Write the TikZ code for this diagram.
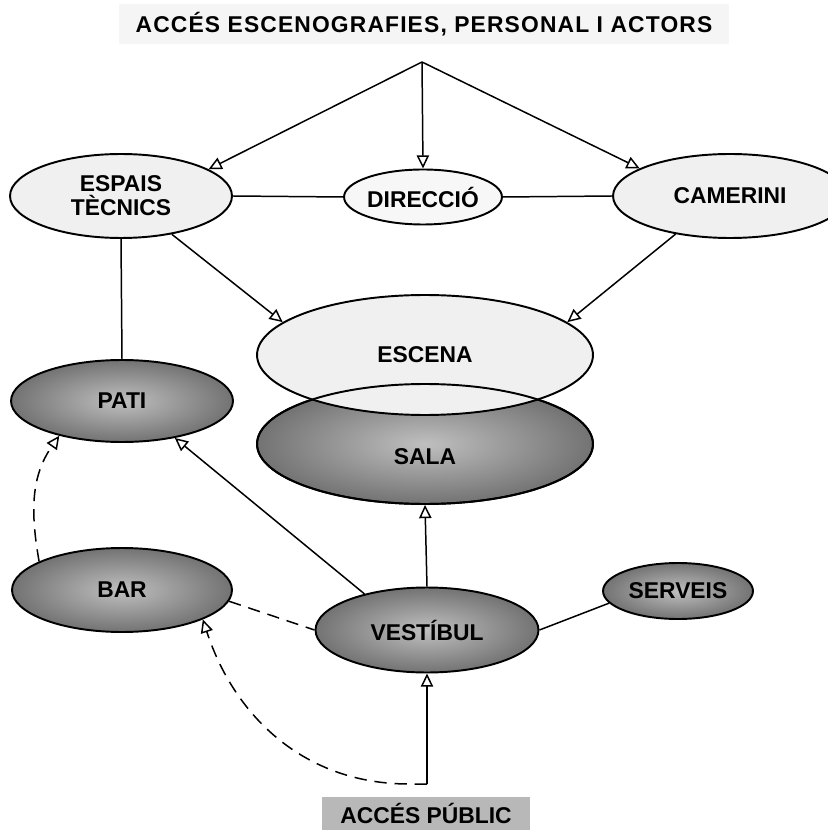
\documentclass[tikz,border=0pt]{standalone}
\usepackage{fontspec}
\setmainfont{Liberation Sans}
\newfontfamily\titlefont[LetterSpace=5]{Liberation Sans}
\usepackage{tikz}
\usetikzlibrary{shapes.geometric,arrows.meta}
\definecolor{roomlight}{gray}{0.94}
\definecolor{roomdark}{gray}{0.45}

\begin{document}
\begin{tikzpicture}[x=0.02cm,y=-0.02cm,
    room/.style={ellipse, draw, line width=1.1pt, inner sep=0pt, align=center,
      font=\fontsize{13}{13.5}\selectfont\bfseries},
    openroom/.style={room, fill=roomlight},
    closedroom/.style={room, shade, inner color=black!25, outer color=roomdark},
    link/.style={line width=0.85pt},
    flow/.style={link, -{Triangle[open,length=7.5pt,width=7pt]}},
    dashlink/.style={link, dash pattern=on 7pt off 4.5pt},
    dashflow/.style={dashlink, -{Triangle[open,length=7.5pt,width=7pt]}}]
  \useasboundingbox (0,0) rectangle (827,830);

  \node[fill=black!4, minimum width=12.2cm, minimum height=0.8cm,
        font=\titlefont\fontsize{13}{15}\selectfont\bfseries] (title) at (424,24)
    {ACCÉS ESCENOGRAFIES, PERSONAL I ACTORS};
  \coordinate (apex) at (422,62);

  \node[openroom, minimum width=4.44cm, minimum height=1.68cm] (espais) at (121,196) {ESPAIS\\TÈCNICS};
  \node[openroom, fill=black!3, minimum width=3cm, minimum height=1.1cm] (direccio) at (423,197) {DIRECCIÓ};
  \node[openroom, minimum width=4.68cm, minimum height=1.68cm] (camerini) at (730,196) {CAMERINI};

  \node[closedroom, minimum width=6.72cm, minimum height=2.4cm] (sala) at (425,444) {};
  \node[openroom, minimum width=6.72cm, minimum height=2.4cm] (escena) at (425,355) {ESCENA};
  \draw[line width=1.1pt] (sala.center) ellipse [x radius=3.36cm, y radius=1.2cm];
  \node[font=\fontsize{13}{13.5}\selectfont\bfseries] (salatext) at (425,457) {SALA};

  \node[closedroom, minimum width=4.44cm, minimum height=1.64cm] (pati) at (122,401) {PATI};
  \node[closedroom, minimum width=4.4cm, minimum height=1.68cm] (bar) at (122,590) {BAR};
  \node[closedroom, minimum width=4.46cm, minimum height=1.7cm] (vestibul) at (427,630) {VESTÍBUL};
  \node[closedroom, minimum width=3cm, minimum height=1.12cm] (serveis) at (678,591) {SERVEIS};

  \coordinate (entrada) at (427,784);
  \node[fill=black!28, minimum width=4.18cm, minimum height=0.66cm, inner sep=0pt,
        font=\fontsize{13}{13.5}\selectfont\bfseries] (public) at (426,813) {ACCÉS PÚBLIC};

  \draw[flow] (apex) -- (espais.17);
  \draw[flow] (apex) -- (direccio.north);
  \draw[flow] (apex) -- (camerini.163);
  \draw[link] (espais.east) -- (direccio.west);
  \draw[link] (direccio.east) -- (camerini.west);
  \draw[flow] (espais.-37) -- (escena.167);
  \draw[flow] (camerini.-145) -- (escena.13);
  \draw[link] (espais.south) -- (pati.north);
  \draw[flow] (vestibul.150) -- (pati.-35);
  \draw[flow] (vestibul.north) -- (sala.south);
  \draw[link] (vestibul.east) -- (serveis.190);
  \draw[dashlink] (bar.-6) -- (vestibul.west);
  \draw[dashflow] (bar.161) to[out=100,in=235] (pati.-151);
  \draw[flow] (entrada) -- (vestibul.south);
  \draw[dashflow] (entrada) -- ++(-18,0) to[out=180,in=-72] (bar.-20);
\end{tikzpicture}
\end{document}
